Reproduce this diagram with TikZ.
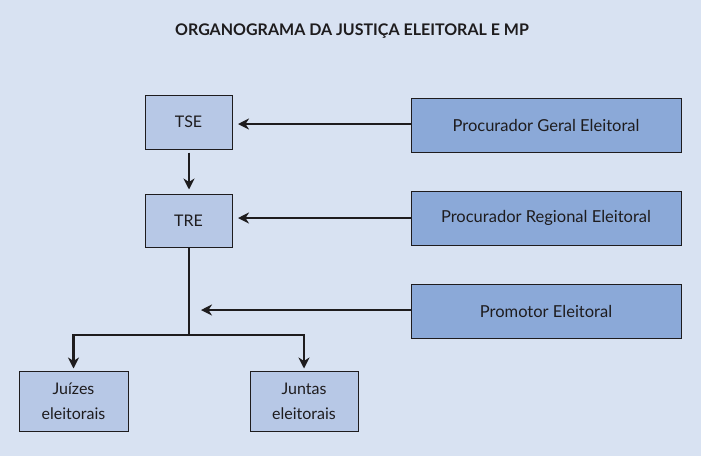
\documentclass[tikz,border=0pt]{standalone}
\usepackage{fontspec}
\setmainfont{Lato}
\usetikzlibrary{arrows.meta}
\definecolor{bgc}{RGB}{216,226,242}
\definecolor{lightb}{RGB}{183,200,230}
\definecolor{darkb}{RGB}{139,169,216}
\definecolor{linec}{RGB}{30,28,30}
\begin{document}
\begin{tikzpicture}[x=1pt,y=-1pt,
  boxa/.style={draw=linec,line width=1pt,fill=lightb,inner sep=0pt,align=center,font=\fontsize{16}{25}\selectfont,text=linec},
  boxb/.style={draw=linec,line width=1pt,fill=darkb,inner sep=0pt,align=center,font=\fontsize{16.5}{20}\selectfont,text=linec},
  conn/.style={draw=linec,line width=2.5pt},
  arr/.style={conn,-{Stealth[length=11pt,width=11pt,inset=3.5pt]}}]
\fill[bgc] (0,0) rectangle (701,456);
\useasboundingbox (0,0) rectangle (701,456);
\node[font=\bfseries\fontsize{16}{18}\selectfont,text=linec] (title) at (352,31) {ORGANOGRAMA DA JUSTIÇA ELEITORAL E MP};
\node[boxa,minimum width=87pt,minimum height=54pt] (tse) at (188.5,122) {TSE};
\node[boxa,minimum width=87pt,minimum height=53pt] (tre) at (188.5,220.5) {TRE};
\node[boxb,minimum width=270pt,minimum height=54pt] (pge) at (546,125) {Procurador Geral Eleitoral};
\node[boxb,minimum width=270pt,minimum height=54pt] (pre) at (546,218) {Procurador Regional Eleitoral};
\node[boxb,minimum width=270pt,minimum height=54pt] (pe) at (546,311) {Promotor Eleitoral};
\node[boxa,minimum width=109pt,minimum height=60pt] (jz) at (73.5,401) {Juízes\\eleitorais};
\node[boxa,minimum width=108pt,minimum height=60pt] (jt) at (304,401) {Juntas\\eleitorais};
\coordinate (tsein) at (238,124);
\coordinate (trein) at (238,218);
\coordinate (peend) at (201,310);
\coordinate (split) at (189,335);
\draw[arr] (pge.west |- tsein) -- (tsein);
\draw[arr] (pre.west |- trein) -- (trein);
\draw[arr] (pe.west |- peend) -- (peend);
\draw[arr] ([yshift=-3pt]tse.south -| split) -- ([yshift=4pt]tre.north -| split);
\draw[conn] (tre.south -| split) -- (split);
\draw[arr] (split) -| ([yshift=2pt]jz.north);
\draw[arr] (split) -| ([yshift=2pt]jt.north);
\end{tikzpicture}
\end{document}
